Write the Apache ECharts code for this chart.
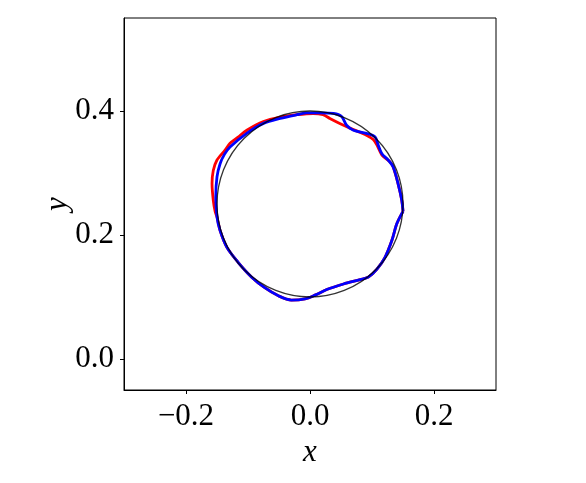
<!DOCTYPE html>
<html>
<head>
<meta charset="utf-8">
<script src="https://cdn.jsdelivr.net/npm/echarts@6/dist/echarts.min.js"></script>
<style>
  html, body { margin: 0; padding: 0; background: #fff; }
  #chart { width: 586px; height: 483px; }
</style>
</head>
<body>
<div id="chart"></div>
<script>
// reference circle
const circleCenter = [0, 0.25]
const circleRadius = 0.15

// red contour (drawn first, mostly hidden under blue)
const redX = [0.150, 0.148, 0.142, 0.134, 0.129, 0.116, 0.108, 0.102, 0.091, 0.070, 0.048, 0.032, 0.021, 0.005, -0.021, -0.048, -0.075, -0.102, -0.116, -0.129, -0.137, -0.150, -0.156, -0.158, -0.156, -0.153, -0.150, -0.145, -0.134, -0.116, -0.094, -0.073, -0.051, -0.030, -0.008, 0.008, 0.027, 0.054, 0.081, 0.094, 0.108, 0.121, 0.132, 0.140, 0.150]
const redY = [0.238, 0.256, 0.283, 0.310, 0.318, 0.329, 0.345, 0.354, 0.361, 0.370, 0.380, 0.388, 0.394, 0.396, 0.394, 0.390, 0.383, 0.369, 0.358, 0.348, 0.337, 0.321, 0.304, 0.283, 0.256, 0.238, 0.229, 0.207, 0.180, 0.156, 0.132, 0.115, 0.102, 0.095, 0.097, 0.103, 0.112, 0.121, 0.128, 0.132, 0.145, 0.164, 0.191, 0.218, 0.238]

// blue contour
const blueX = [0.150, 0.148, 0.142, 0.134, 0.126, 0.116, 0.110, 0.105, 0.091, 0.070, 0.059, 0.051, 0.038, 0.016, -0.005, -0.021, -0.048, -0.075, -0.102, -0.129, -0.138, -0.145, -0.150, -0.152, -0.150, -0.145, -0.134, -0.116, -0.094, -0.073, -0.051, -0.030, -0.008, 0.008, 0.027, 0.054, 0.081, 0.094, 0.108, 0.121, 0.132, 0.140, 0.150]
const blueY = [0.238, 0.256, 0.283, 0.310, 0.321, 0.331, 0.345, 0.358, 0.364, 0.369, 0.377, 0.391, 0.396, 0.397, 0.397, 0.394, 0.388, 0.380, 0.364, 0.342, 0.330, 0.315, 0.294, 0.261, 0.229, 0.207, 0.180, 0.156, 0.132, 0.115, 0.102, 0.095, 0.097, 0.103, 0.112, 0.121, 0.128, 0.132, 0.145, 0.164, 0.191, 0.218, 0.238]

const xRange = [-0.3, 0.3]
const yRange = [-0.05, 0.55]
const xTicks = [-0.2, 0.0, 0.2]
const yTicks = [0.0, 0.2, 0.4]

const FONT = '"Liberation Serif", "DejaVu Serif", serif'

const zip = (xs, ys) => xs.map((x, i) => [x, ys[i]])
const fmt = v => {
  const s = v.toFixed(1)
  return s.replace('-', '\u2212')
}

const chart = echarts.init(document.getElementById('chart'))

const tickLabel = {
  fontFamily: FONT,
  fontSize: 31,
  color: '#000',
}

const option = {
  animation: false,
  backgroundColor: '#fff',
  grid: {
    left: 124,
    top: 18,
    width: 372,
    height: 372,
    show: true,
    borderColor: '#000',
    borderWidth: 1,
    backgroundColor: 'transparent',
  },
  xAxis: {
    type: 'value',
    min: xRange[0],
    max: xRange[1],
    interval: 0.1,
    name: 'x',
    nameLocation: 'middle',
    nameGap: 45,
    nameTextStyle: {
      fontFamily: FONT,
      fontStyle: 'italic',
      fontSize: 31,
      color: '#000',
    },
    axisLine: { show: true, onZero: false, lineStyle: { color: '#000', width: 1 } },
    axisTick: {
      show: true,
      length: 4,
      lineStyle: { color: '#000', width: 1 },
      customValues: xTicks,
    },
    axisLabel: Object.assign({
      margin: 11,
      customValues: xTicks,
      formatter: fmt,
    }, tickLabel),
    splitLine: { show: false },
  },
  yAxis: {
    type: 'value',
    min: yRange[0],
    max: yRange[1],
    interval: 0.05,
    name: 'y',
    nameLocation: 'middle',
    nameGap: 51,
    nameRotate: 90,
    nameMoveOverlap: false,
    nameTextStyle: {
      fontFamily: FONT,
      fontStyle: 'italic',
      fontSize: 31,
      color: '#000',
    },
    axisLine: { show: true, onZero: false, lineStyle: { color: '#000', width: 1 } },
    axisTick: {
      show: true,
      length: 4,
      lineStyle: { color: '#000', width: 1 },
      customValues: yTicks,
    },
    axisLabel: Object.assign({
      margin: 10,
      customValues: yTicks,
      formatter: fmt,
    }, tickLabel),
    splitLine: { show: false },
  },
  series: [{
    name: 'red',
    type: 'line',
    data: zip(redX, redY),
    smooth: 0.3,
    symbol: 'none',
    z: 2,
    lineStyle: { color: '#ff0000', width: 2.8 },
    emphasis: { disabled: true },
  }, {
    name: 'blue',
    type: 'line',
    data: zip(blueX, blueY),
    smooth: 0.3,
    symbol: 'none',
    z: 3,
    lineStyle: { color: '#0000ff', width: 2.8 },
    emphasis: { disabled: true },
  }, {
    name: 'circle',
    type: 'scatter',
    data: [circleCenter],
    symbol: 'circle',
    symbolSize: 10,
    z: 4,
    itemStyle: { color: 'transparent', borderColor: '#000', borderWidth: 1.3 },
    emphasis: { disabled: true },
  }],
}

chart.setOption(option)

// size the reference circle from the axis scale
const p0 = chart.convertToPixel({ gridIndex: 0 }, [circleCenter[0] - circleRadius, circleCenter[1]])
const p1 = chart.convertToPixel({ gridIndex: 0 }, [circleCenter[0] + circleRadius, circleCenter[1]])
const q0 = chart.convertToPixel({ gridIndex: 0 }, [circleCenter[0], circleCenter[1] - circleRadius])
const q1 = chart.convertToPixel({ gridIndex: 0 }, [circleCenter[0], circleCenter[1] + circleRadius])
chart.setOption({
  series: [{}, {}, { symbolSize: [Math.abs(p1[0] - p0[0]), Math.abs(q1[1] - q0[1])] }],
})
</script>
</body>
</html>
